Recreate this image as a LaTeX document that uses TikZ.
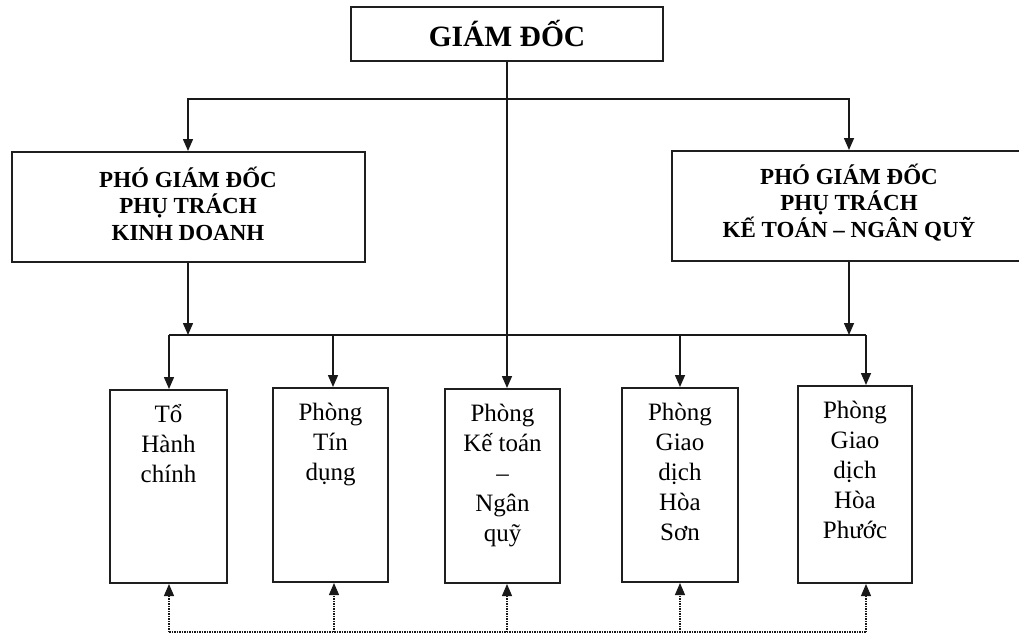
\documentclass[tikz,border=0pt]{standalone}
\usepackage{fontspec}
\setmainfont{Liberation Serif}
\usetikzlibrary{arrows.meta}
\begin{document}
\begin{tikzpicture}[x=1pt,y=-1pt,
  box/.style={draw=black!88, line width=2pt, rectangle, inner sep=0pt},
  conn/.style={draw=black!90, line width=1.5pt},
  arr/.style={conn, -{Triangle[length=12pt,width=10pt]}},
  dotline/.style={draw=black!90, line width=1.2pt, dash pattern=on 1.5pt off 1pt},
  darr/.style={dotline, -{Triangle[length=12pt,width=10pt]}},
  head/.style={font=\bfseries\fontsize{23}{26.5}\selectfont, align=center, inner sep=0pt},
  unit/.style={font=\fontsize{25}{30}\selectfont, align=center, anchor=north, inner sep=0pt}]
\useasboundingbox (0,0) rectangle (1019,637);
\begin{scope}
\clip (0,0) rectangle (1019,637);
% boxes
\node[box, minimum width=312pt, minimum height=54pt, font=\bfseries\fontsize{29.5}{30}\selectfont] (gd) at (507,34) {GIÁM ĐỐC};
\node[box, minimum width=353pt, minimum height=110pt] (pl) at (188,207) {};
\node[box, minimum width=354pt, minimum height=110pt] (pr) at (849,206) {};
\node[head] (hl) at ([yshift=3.5pt]pl.center) {PHÓ GIÁM ĐỐC\\PHỤ TRÁCH\\KINH DOANH};
\node[head] (hr) at ([yshift=3.5pt]pr.center) {PHÓ GIÁM ĐỐC\\PHỤ TRÁCH\\KẾ TOÁN – NGÂN QUỸ};
\node[box, minimum width=117pt, minimum height=193pt] (b1) at (168.5,486.5) {};
\node[box, minimum width=115pt, minimum height=194pt] (b2) at (330.5,485) {};
\node[box, minimum width=115pt, minimum height=194pt] (b3) at (502.5,486) {};
\node[box, minimum width=116pt, minimum height=194pt] (b4) at (680,485) {};
\node[box, minimum width=114pt, minimum height=197pt] (b5) at (855,484.5) {};
% texts of lower boxes
\node[unit] (t1) at ([yshift=-9pt]b1.north) {\rule{0pt}{24pt}Tổ\\Hành\\chính};
\node[unit] (t2) at ([yshift=-9pt]b2.north) {\rule{0pt}{24pt}Phòng\\Tín\\dụng};
\node[unit] (t3) at ([yshift=-9pt]b3.north) {\rule{0pt}{24pt}Phòng\\Kế toán\\–\\Ngân\\quỹ};
\node[unit] (t4) at ([yshift=-9pt]b4.north) {\rule{0pt}{24pt}Phòng\\Giao\\dịch\\Hòa\\Sơn};
\node[unit] (t5) at ([yshift=-9pt]b5.north) {\rule{0pt}{24pt}Phòng\\Giao\\dịch\\Hòa\\Phước};
% top connectors
\coordinate (jt) at (507,99);
\draw[arr] (jt) -| (pl.north);
\draw[arr] (jt) -| (pr.north);
\draw[arr] (gd.south) -- (gd.south |- b3.north);
% middle bus
\coordinate (m1) at (169,335);
\coordinate (m2) at (333,335);
\coordinate (m4) at (680,335);
\coordinate (m5) at (866,335);
\draw[conn] (m1) -- (m5);
\draw[arr] (pl.south) -- (pl.south |- m1);
\draw[arr] (pr.south) -- (pr.south |- m1);
\draw[arr] (m1) -- (m1 |- b1.north);
\draw[arr] (m2) -- (m2 |- b2.north);
\draw[arr] (m4) -- (m4 |- b4.north);
\draw[arr] (m5) -- (m5 |- b5.north);
% dotted links
\coordinate (q1) at (169,632);
\coordinate (q2) at (334,632);
\coordinate (q3) at (507,632);
\coordinate (q4) at (680,632);
\coordinate (q5) at (866,632);
\draw[dotline] (q1) -- (q5);
\draw[darr] (q1) -- (q1 |- b1.south);
\draw[darr] (q2) -- (q2 |- b2.south);
\draw[darr] (q3) -- (q3 |- b3.south);
\draw[darr] (q4) -- (q4 |- b4.south);
\draw[darr] (q5) -- (q5 |- b5.south);
\end{scope}
\end{tikzpicture}
\end{document}
